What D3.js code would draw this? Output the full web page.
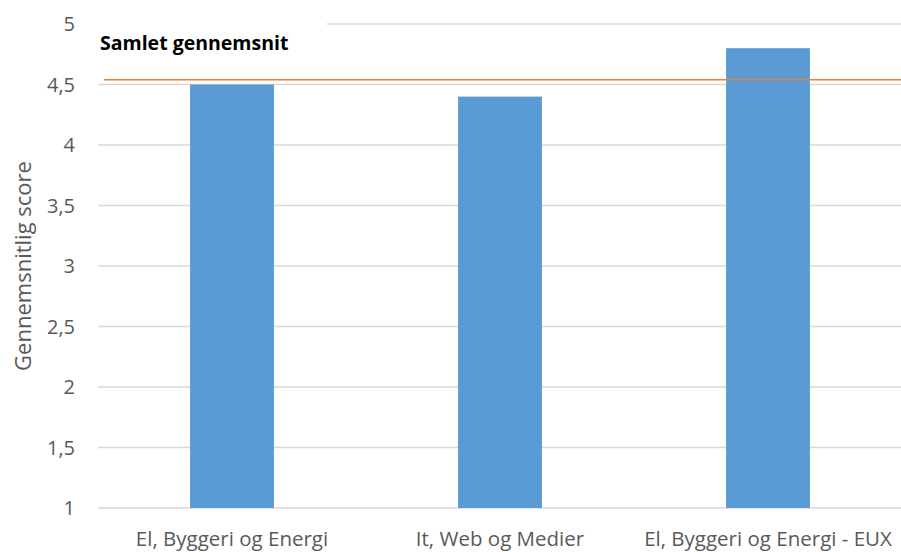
<!DOCTYPE html>
<html><head><meta charset="utf-8">
<script src="https://cdn.jsdelivr.net/npm/d3@7/dist/d3.min.js"></script>
<style>body{margin:0;background:#fff}svg{display:block}</style>
</head><body>
<svg id="c" width="901" height="552"></svg>
<script>
const categories = ["El, Byggeri og Energi", "It, Web og Medier", "El, Byggeri og Energi - EUX"];
const scores = [4.5, 4.4, 4.8];
const average = 4.54;
const yTicks = [1, 1.5, 2, 2.5, 3, 3.5, 4, 4.5, 5];
const yTickLabels = ["1", "1,5", "2", "2,5", "3", "3,5", "4", "4,5", "5"];
const yTitle = "Gennemsnitlig score";
const avgLabel = "Samlet gennemsnit";

const svg = d3.select("#c");
const mLeft = 98, mRight = 902, mTop = 24, mBottom = 508;
const font = "'Open Sans', sans-serif";
const y = d3.scaleLinear().domain([1, 5]).range([mBottom, mTop]);
const p = 0.687;
const x = d3.scaleBand().domain(categories).range([mLeft, mRight]).paddingInner(p).paddingOuter(p / 2);

// gridlines
svg.append("g").selectAll("line").data(yTicks).join("line")
  .attr("x1", mLeft).attr("x2", mRight)
  .attr("y1", d => y(d)).attr("y2", d => y(d))
  .attr("stroke", "#d9d9d9").attr("stroke-width", 1.5);

// tick labels
svg.append("g").selectAll("text").data(yTicks).join("text")
  .attr("x", 75).attr("y", d => y(d)).attr("dy", "0.35em")
  .attr("text-anchor", "end").attr("font-family", font).attr("font-size", 20)
  .attr("fill", "#595959").text((d, i) => yTickLabels[i]);

// bars
svg.append("g").selectAll("rect").data(scores).join("rect")
  .attr("x", (d, i) => x(categories[i])).attr("width", x.bandwidth())
  .attr("y", d => y(d)).attr("height", d => y(1) - y(d))
  .attr("fill", "#5b9bd5");

// category labels
svg.append("g").selectAll("text").data(categories).join("text")
  .attr("x", d => x(d) + x.bandwidth() / 2).attr("y", 546)
  .attr("text-anchor", "middle").attr("font-family", font).attr("font-size", 20.5)
  .attr("fill", "#595959").text(d => d);

// label box covering gridline
svg.append("rect").attr("x", mLeft).attr("y", 14).attr("width", 229).attr("height", 44).attr("fill", "#fff");
svg.append("text").attr("x", 100).attr("y", 50).attr("font-family", font).attr("font-weight", "bold")
  .attr("font-size", 19.5).attr("fill", "#000").text(avgLabel);

// average line
svg.append("line").attr("x1", 104).attr("x2", mRight)
  .attr("y1", y(average)).attr("y2", y(average))
  .attr("stroke", "#ed7d31").attr("stroke-width", 1.5);

// y title
svg.append("text").attr("transform", `translate(23,${(mTop + mBottom) / 2}) rotate(-90)`)
  .attr("text-anchor", "middle").attr("dy", "0.35em").attr("font-family", font).attr("font-size", 22)
  .attr("fill", "#595959").text(yTitle);
</script>
</body></html>
